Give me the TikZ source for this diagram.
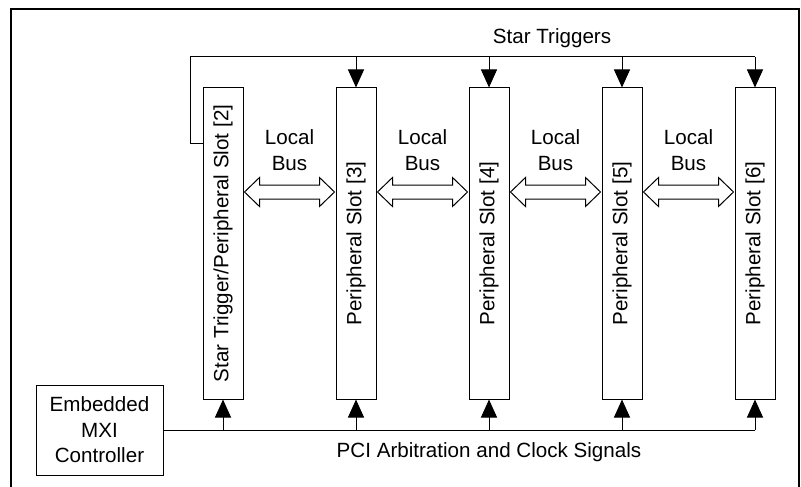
\documentclass[tikz,border=0pt]{standalone}
\usepackage{fontspec}
\setmainfont{Liberation Sans}
\usetikzlibrary{arrows.meta,calc}

\tikzstyle{slot}=[draw,line width=1pt,minimum width=40pt,minimum height=311pt,inner sep=0pt]
\tikzstyle{ctrl}=[draw,line width=1pt,minimum width=127pt,minimum height=90pt,align=center,inner sep=0pt]
\tikzstyle{wire}=[line width=1pt]
\tikzstyle{sigarrow}=[line width=1pt,-{Triangle[length=18pt,width=16pt]}]
\tikzstyle{lbus}=[draw,line width=1pt,fill=white,line join=miter]
\tikzstyle{txt}=[align=center,inner sep=0pt]

\begin{document}
\begin{tikzpicture}[x=1pt,y=-1pt,font=\fontsize{20.6}{25.5}\selectfont]
    \useasboundingbox (0,0) rectangle (801,487);
    \draw[line width=2pt] (11,487) -- (11,9) -- (799,9) -- (799,487);

    \node (s2)[slot] at (223,243.5) {\rotatebox{90}{Star Trigger/Peripheral Slot [2]}};
    \node (s3)[slot] at (356,243.5) {\rotatebox{90}{Peripheral Slot [3]}};
    \node (s4)[slot] at (489,243.5) {\rotatebox{90}{Peripheral Slot [4]}};
    \node (s5)[slot] at (622,243.5) {\rotatebox{90}{Peripheral Slot [5]}};
    \node (s6)[slot] at (755,243.5) {\rotatebox{90}{Peripheral Slot [6]}};

    \node (mxi)[ctrl] at (99.5,430) {Embedded\\MXI\\Controller};

    \node (st)[txt,anchor=base] at (552,44) {Star Triggers};
    \node (pci)[txt,anchor=base] at (489,457) {PCI Arbitration and Clock Signals};

    \coordinate (lb) at (0,192);
    \coordinate (trig) at (190,57);

    % local bus between neighbouring slots
    \foreach \a/\b in {2/3,3/4,4/5,5/6} {
        \draw[lbus] ($(s\a.east|-lb)+(1,0)$) -- ++(15,-14.5) -- ++(0,7.5)
            -- ($(s\b.west|-lb)+(-16,-7)$) -- ++(0,-7.5) -- ++(15,14.5)
            -- ++(-15,14.5) -- ++(0,-7.5) -- ($(s\a.east|-lb)+(16,7)$)
            -- ++(0,7.5) -- cycle;
        \node[txt] at ($(s\a.east)!0.5!(s\b.west)+(0,-93.5)$) {Local\\Bus};
    }

    % star triggers
    \draw[wire] (s2.west |- 0,143) -| (trig) -- (s6.north |- trig);
    \foreach \s in {3,...,6}
        \draw[sigarrow] (s\s.north |- trig) -- (s\s.north);

    % PCI arbitration and clock
    \draw[wire] (mxi.east) -- (s6.south |- mxi.east);
    \foreach \s in {2,...,6}
        \draw[sigarrow] (s\s.south |- mxi.east) -- (s\s.south);
\end{tikzpicture}
\end{document}
